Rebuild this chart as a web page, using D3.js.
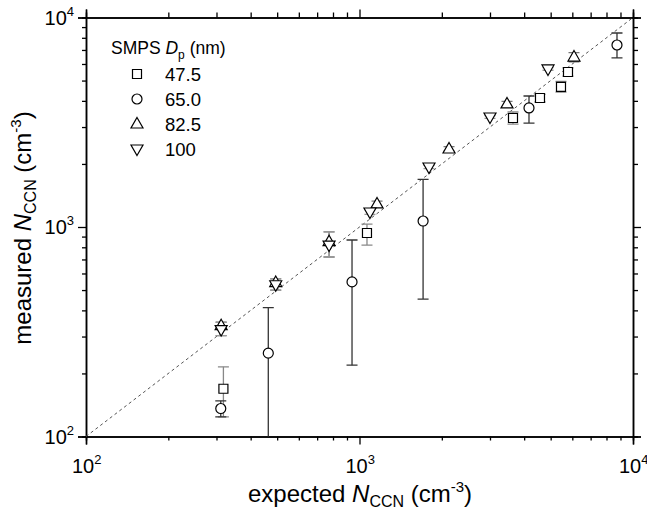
<!DOCTYPE html>
<html>
<head>
<meta charset="utf-8">
<script src="https://cdn.jsdelivr.net/npm/d3@7"></script>
<style>
  body { margin: 0; background: #fff; }
  text { font-family: "Liberation Sans", Arial, sans-serif; fill: #000; }
</style>
</head>
<body>
<div id="viz"></div>
<script>
// values (cm^-3)
var sizeLabels = ["47.5", "65.0", "82.5", "100"];
var majorTicks = [100, 1000, 10000];

// 47.5 nm, squares
var sqX = [318, 1065, 3641, 4570, 5454, 5785];
var sqY = [169, 936, 3314, 4129, 4660, 5495];
var sqLo = [124, 820, 3100, 3950, 4400, 5250];
var sqHi = [215, 1033, 3540, 4300, 4950, 5750];

// 65.0 nm, circles
var ciX = [311, 464, 939, 1708, 4166, 8739];
var ciY = [136, 250, 547, 1068, 3700, 7391];
var ciLo = [124, 80, 219, 453, 3135, 6413];
var ciHi = [148, 412, 867, 1686, 4220, 8435];

// 82.5 nm, up triangles
var upX = [312, 494, 774, 1159, 2125, 3462, 6085];
var upY = [338, 543, 851, 1288, 2357, 3866, 6476];
var upLo = [303, 500, 719, 1250, 2300, 3750, 6150];
var upHi = [351, 565, 947, 1330, 2420, 3980, 6800];

// 100 nm, down triangles
var dnX = [312, 494, 774, 1092, 1795, 3000, 4889];
var dnY = [324, 530, 820, 1179, 1934, 3350, 5680];
var dnLo = [303, 500, 719, 1150, 1900, 3300, 5600];
var dnHi = [351, 565, 947, 1210, 1970, 3400, 5760];

var svgW = 647, svgH = 516;
var plotL = 86, plotR = 633, plotT = 17.5, plotB = 436.5;

var xScale = d3.scaleLog().domain([100, 10000]).range([plotL, plotR]);
var yScale = d3.scaleLog().domain([100, 10000]).range([plotB, plotT]);

var svg = d3
  .select("#viz")
  .append("svg")
  .attr("width", svgW)
  .attr("height", svgH);

var minorTicks = xScale.ticks().filter(function (v) {
  return majorTicks.indexOf(v) < 0;
});

// axes: outward ticks bottom/left, inward ticks top/right
var drawAxis = function (axisFn, scale, tr, major, minor) {
  svg.append("g")
    .attr("class", "axis")
    .attr("transform", tr)
    .call(axisFn(scale).tickValues(minorTicks).tickSize(minor).tickFormat(""));
  svg.append("g")
    .attr("class", "axis")
    .attr("transform", tr)
    .call(axisFn(scale).tickValues(majorTicks).tickSize(major).tickFormat(""));
};

drawAxis(d3.axisBottom, xScale, "translate(0," + plotB + ")", 8, 4);
drawAxis(d3.axisLeft, yScale, "translate(" + plotL + ",0)", 8, 4);
drawAxis(d3.axisBottom, xScale, "translate(0," + plotT + ")", -8, -5);
drawAxis(d3.axisLeft, yScale, "translate(" + plotR + ",0)", -8, -5);

svg.selectAll("g.axis path").attr("stroke", "#000").attr("stroke-width", 1.5);
svg.selectAll("g.axis line").attr("stroke", "#000").attr("stroke-width", 1.3);

// tick labels as 10^n
var powLabel = function (sel, exp) {
  sel.append("tspan").text("10");
  sel.append("tspan")
    .attr("dy", -9)
    .style("font-size", "13px")
    .text(exp);
};

majorTicks.forEach(function (v) {
  var e = Math.round(Math.log10(v));
  var tx = svg.append("text")
    .attr("x", xScale(v) - 14)
    .attr("y", 473)
    .style("font-size", "20px");
  powLabel(tx, e);

  var ty = svg.append("text")
    .attr("x", plotL - 12)
    .attr("y", yScale(v) + 7)
    .attr("text-anchor", "end")
    .style("font-size", "20px");
  powLabel(ty, e);
});

// axis titles
var title = function (sel, word) {
  sel.append("tspan").text(word + " ");
  sel.append("tspan").style("font-style", "italic").text("N");
  sel.append("tspan").attr("dy", 5).style("font-size", "16px").text("CCN");
  sel.append("tspan").attr("dy", -5).text(" (cm");
  sel.append("tspan").attr("dy", -10).style("font-size", "15px").text("-3");
  sel.append("tspan").attr("dy", 10).text(")");
};

title(
  svg.append("text")
    .attr("x", 360)
    .attr("y", 502)
    .attr("text-anchor", "middle")
    .style("font-size", "24px"),
  "expected"
);

title(
  svg.append("text")
    .attr("transform", "translate(31,228) rotate(-90)")
    .attr("text-anchor", "middle")
    .style("font-size", "24px"),
  "measured"
);

// 1:1 line
svg.append("line")
  .attr("x1", xScale(100))
  .attr("y1", yScale(100))
  .attr("x2", xScale(10000))
  .attr("y2", yScale(10000))
  .attr("stroke", "#555")
  .attr("stroke-width", 1)
  .attr("stroke-dasharray", "3,3");

var series = [
  { x: sqX, y: sqY, lo: sqLo, hi: sqHi, shape: "square", bar: "#888" },
  { x: ciX, y: ciY, lo: ciLo, hi: ciHi, shape: "circle", bar: "#333" },
  { x: upX, y: upY, lo: upLo, hi: upHi, shape: "up", bar: "#777" },
  { x: dnX, y: dnY, lo: dnLo, hi: dnHi, shape: "down", bar: "#999" }
];

var symbolPath = function (shape, cx, cy) {
  if (shape == "square") {
    return "M" + (cx - 4.5) + "," + (cy - 4.5) + "h9v9h-9z";
  }
  if (shape == "circle") {
    return "M" + (cx - 5) + "," + cy + "a5,5 0 1,0 10,0a5,5 0 1,0 -10,0z";
  }
  if (shape == "up") {
    return "M" + cx + "," + (cy - 6.5) + "L" + (cx + 6) + "," + (cy + 4) + "L" + (cx - 6) + "," + (cy + 4) + "z";
  }
  return "M" + cx + "," + (cy + 6.5) + "L" + (cx + 6) + "," + (cy - 4) + "L" + (cx - 6) + "," + (cy - 4) + "z";
};

var plot = svg.append("g");
plot.append("clipPath")
  .attr("id", "clip")
  .append("rect")
  .attr("x", plotL)
  .attr("y", plotT)
  .attr("width", plotR - plotL)
  .attr("height", plotB - plotT);

// error bars first
series.forEach(function (s) {
  var g = plot.append("g").attr("clip-path", "url(#clip)");
  s.x.forEach(function (xv, i) {
    var cx = xScale(xv);
    var yl = yScale(Math.max(s.lo[i], 60));
    var yh = yScale(s.hi[i]);
    g.append("line")
      .attr("x1", cx).attr("x2", cx)
      .attr("y1", yl).attr("y2", yh)
      .attr("stroke", s.bar).attr("stroke-width", 1.3);
    [s.lo[i], s.hi[i]].forEach(function (v) {
      g.append("line")
        .attr("x1", cx - 5.5).attr("x2", cx + 5.5)
        .attr("y1", yScale(v)).attr("y2", yScale(v))
        .attr("stroke", s.bar).attr("stroke-width", 1.3);
    });
  });
});

series.forEach(function (s) {
  plot.append("g")
    .selectAll("path")
    .data(s.x)
    .enter()
    .append("path")
    .attr("d", function (d, i) {
      return symbolPath(s.shape, xScale(d), yScale(s.y[i]));
    })
    .attr("fill", "#fff")
    .attr("stroke", "#000")
    .attr("stroke-width", 1.2);
});

// legend
var leg = svg.append("text")
  .attr("x", 111)
  .attr("y", 54)
  .style("font-size", "17.5px");
leg.append("tspan").text("SMPS ");
leg.append("tspan").style("font-style", "italic").text("D");
leg.append("tspan").attr("dy", 5).style("font-size", "12px").text("p");
leg.append("tspan").attr("dy", -5).text(" (nm)");

series.forEach(function (s, i) {
  var cy = 74 + i * 25;
  svg.append("path")
    .attr("d", symbolPath(s.shape, 137, cy))
    .attr("fill", "#fff")
    .attr("stroke", "#000")
    .attr("stroke-width", 1.2);
  svg.append("text")
    .attr("x", 165)
    .attr("y", cy + 7)
    .style("font-size", "18.5px")
    .text(sizeLabels[i]);
});
</script>
</body>
</html>
